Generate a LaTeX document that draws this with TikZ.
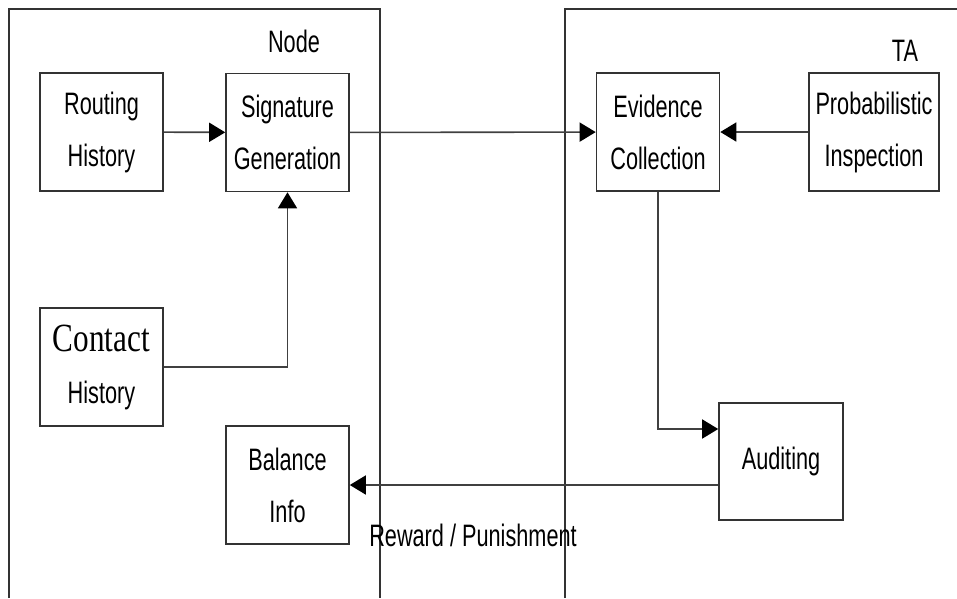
\documentclass[tikz,border=0pt]{standalone}
\usepackage{fontspec}
\setmainfont{Liberation Sans}[FakeStretch=0.7]
\newfontfamily\timesf{Liberation Serif}[FakeStretch=0.78]
\usetikzlibrary{arrows.meta}
\begin{document}
\begin{tikzpicture}[x=1pt,y=-1pt,
  box/.style={draw=black!80, line width=1.6pt, minimum width=123pt, minimum height=118pt, inner sep=0pt, align=center, font=\fontsize{31}{52}\selectfont},
  conn/.style={draw=black!75, line width=1.6pt, -{Triangle[length=16pt,width=19pt,color=black]}},
  frame/.style={draw=black!80, line width=1.5pt},
  lbl/.style={inner sep=0pt, anchor=base, font=\fontsize{31}{36}\selectfont}]
\useasboundingbox (0,0) rectangle (957,598);
% frames
\draw[frame] (9,598) -- (9,9) -- (380,9) -- (380,598);
\draw[frame] (565,598) -- (565,9) -- (957,9);
% labels
\node[lbl] (nodelbl) at (294,52) {Node};
\node[lbl] (talbl) at (905,61) {TA};
% boxes
\node[box] (rh) at (101.5,132) {Routing\\History};
\node[box] (sg) at (287.5,132.5) {Signature\\Generation};
\node[box] (ec) at (658,132) {Evidence\\Collection};
\node[box, minimum width=130pt] (pi) at (874,132) {Probabilistic\\Inspection};
\node[box] (ch) at (101.5,367) {{\timesf\fontsize{40}{52}\selectfont Contact}\\History};
\node[box] (bi) at (287.5,485) {Balance\\Info};
\node[box, minimum width=124pt, minimum height=117pt] (au) at (781,461.5) {Auditing};
% connectors
\draw[conn] (rh) -- (sg);
\draw[conn] (sg) -- (ec);
\draw[conn] (pi) -- (ec);
\draw[conn] (ch.east) -| (sg.south);
\draw[conn] (ec.south) |- ([yshift=32.5pt]au.west);
\draw[conn] ([yshift=-23.5pt]au.west) -- (bi.east);
\node[lbl] (rp) at (473,546) {Reward / Punishment};
\end{tikzpicture}
\end{document}
